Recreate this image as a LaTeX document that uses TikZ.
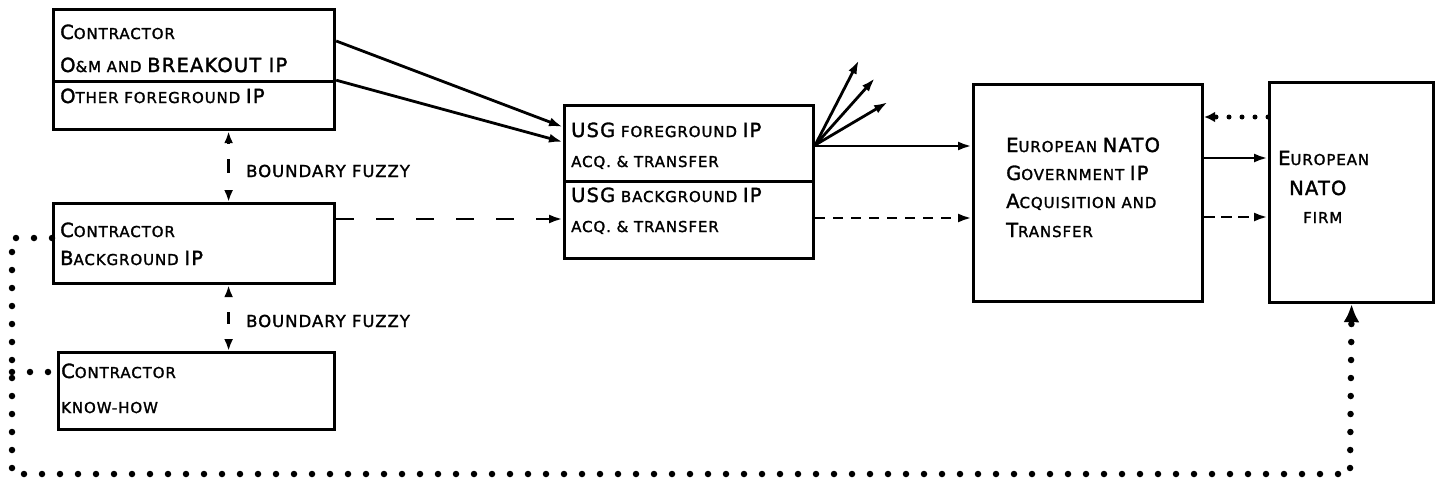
\documentclass[tikz,border=0pt]{standalone}
\usepackage{fontspec}
\setmainfont{DejaVu Sans}[LetterSpace=6, FakeBold=1.6]
\usetikzlibrary{arrows.meta}
\newcommand\bg[1]{{\fontsize{19.5}{20}\selectfont #1}}
\newcommand\smf{\fontsize{15}{15}\selectfont}
\begin{document}
\begin{tikzpicture}[x=1pt,y=-1pt,
  box/.style={draw, line width=3.2pt, anchor=north west, inner sep=0pt},
  txt/.style={anchor=base west, inner sep=0pt, font=\smf},
  lbl/.style={anchor=base west, inner sep=0pt, font=\fontsize{16.5}{16.5}\selectfont},
  arr/.style={line width=2.8pt, -{Latex[length=14pt,width=9pt]}},
  dsh/.style={arr, dash pattern=on 18pt off 22pt},
  dshb/.style={arr, dash pattern=on 10pt off 8pt},
  dots/.style={line width=6.5pt, line cap=round, dash pattern=on 0pt off 18pt},
  bnd/.style={line width=2.8pt, {Latex[length=12pt,width=9pt]}-{Latex[length=12pt,width=9pt]}}
]
\useasboundingbox (0,0) rectangle (1441,482);

% boxes
\node[box, minimum width=281pt, minimum height=72pt] (a1) at (52,8) {};
\node[box, minimum width=281pt, minimum height=48pt] (a2) at (52,80) {};
\node[box, minimum width=281pt, minimum height=80pt] (b) at (52,202) {};
\node[box, minimum width=276pt, minimum height=77pt] (c) at (57,351) {};
\node[box, minimum width=249pt, minimum height=76pt] (u1) at (563,104) {};
\node[box, minimum width=249pt, minimum height=77pt] (u2) at (563,180) {};
\node[box, minimum width=229pt, minimum height=217pt] (n) at (972,83) {};
\node[box, minimum width=164pt, minimum height=220pt] (f) at (1268,81) {};

% texts
\node[txt] (ta1) at (60,39) {\bg{C}ONTRACTOR};
\node[txt] (ta2) at (60,72) {\bg{O}\&M AND \bg{BREAKOUT IP}};
\node[txt] (ta3) at (60,103) {\bg{O}THER FOREGROUND \bg{IP}};
\node[txt] (tb1) at (60,237) {\bg{C}ONTRACTOR};
\node[txt] (tb2) at (60,265) {\bg{B}ACKGROUND \bg{IP}};
\node[txt] (tc1) at (61,378) {\bg{C}ONTRACTOR};
\node[txt] (tc2) at (61,413) {KNOW-HOW};
\node[txt] (tu1) at (571,137) {\bg{USG} FOREGROUND \bg{IP}};
\node[txt] (tu2) at (571,167) {ACQ. \& TRANSFER};
\node[txt] (tu3) at (571,202) {\bg{USG} BACKGROUND \bg{IP}};
\node[txt] (tu4) at (571,232) {ACQ. \& TRANSFER};
\node[txt] (tn1) at (1006,152) {\bg{E}UROPEAN \bg{NATO}};
\node[txt] (tn2) at (1006,180) {\bg{G}OVERNMENT \bg{IP}};
\node[txt] (tn3) at (1006,208) {\bg{A}CQUISITION AND};
\node[txt] (tn4) at (1006,237) {\bg{T}RANSFER};
\node[txt] (tf1) at (1278,165) {\bg{E}UROPEAN};
\node[txt] (tf2) at (1289,195) {\bg{NATO}};
\node[txt] (tf3) at (1303,223) {FIRM};
\node[lbl] (bl1) at (246,177) {BOUNDARY FUZZY};
\node[lbl] (bl2) at (246,327) {BOUNDARY FUZZY};

% boundary arrows
\draw[bnd, dash pattern=on 2pt off 15pt on 14pt off 40pt] ([xshift=34.5pt]a2.south) -- ([xshift=34.5pt]b.north);
\draw[bnd, dash pattern=on 1pt off 15pt on 12pt off 40pt] ([xshift=34.5pt]b.south) -- ([xshift=32pt]c.north);

% contractor -> USG
\draw[arr] ([yshift=-33pt]a1.north east) -- ([yshift=-23pt]u1.north west);
\draw[arr] ([yshift=3pt]a1.south east) -- ([yshift=-38pt]u1.north west);
\draw[dsh] ([yshift=-17pt]b.north east) -- ([yshift=-39pt]u2.north west);

% USG -> NATO
\draw[arr] ([yshift=-42pt]u1.north east) -- ([yshift=-63pt]n.north west);
\draw[dshb] ([yshift=-38pt]u2.north east) -- ([yshift=-135pt]n.north west);

% fan arrows
\coordinate (f1) at (859,60);
\coordinate (f2) at (875,78);
\coordinate (f3) at (888,102);
\draw[arr] ([yshift=-41pt]u1.north east) -- (f1);
\draw[arr] ([yshift=-41pt]u1.north east) -- (f2);
\draw[arr] ([yshift=-41pt]u1.north east) -- (f3);

% NATO <-> firm
\draw[line width=5pt, line cap=round, dash pattern=on 0pt off 13pt, -{Latex[length=11pt,width=11pt]}] ([yshift=-36pt]f.north west) -- ([yshift=-34pt]n.north east);
\draw[arr] ([yshift=-75pt]n.north east) -- ([yshift=-77pt]f.north west);
\draw[arr, dash pattern=on 11pt off 6pt] ([yshift=-134pt]n.north east) -- ([yshift=-136pt]f.north west);

% dotted loop
\coordinate (l1) at (12,238);
\coordinate (l2) at (12,474);
\coordinate (l3) at (12,372);
\coordinate (r1) at (1350,474);
\draw[dots, -{Latex[length=18pt,width=16pt]}] ([yshift=-36pt]b.north west) -- (l1) -- (l2) -- (r1) -- (f.south);
\draw[dots] (l3) -- ([yshift=-21pt]c.north west);
\end{tikzpicture}
\end{document}
